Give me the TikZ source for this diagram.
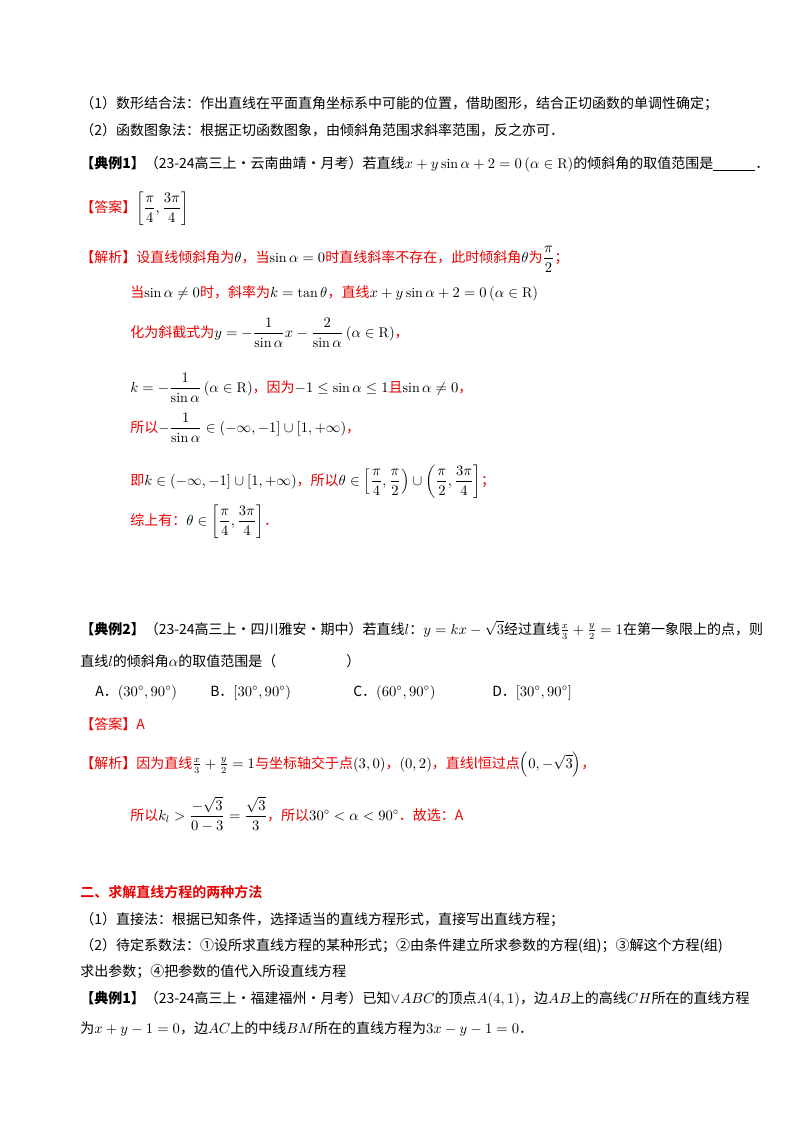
\documentclass[tikz,border=0pt]{standalone}
\usepackage{amsmath,amssymb}
\usepackage{fontspec}
\newfontfamily\cjk{Noto Sans CJK SC}
\newfontfamily\cjkb{Noto Sans CJK SC Bold}
\definecolor{rd}{RGB}{230,0,0}
\begin{document}
\begin{tikzpicture}[x=0.75pt,y=-0.75pt,
  ln/.style={anchor=base west,inner sep=0pt,font=\fontsize{10.5}{12}\selectfont\cjk},
  rl/.style={ln,text=rd}]
\useasboundingbox (0,0) rectangle (800,1132);
\node[ln] (l1) at (80,108) {（1）数形结合法：作出直线在平面直角坐标系中可能的位置，借助图形，结合正切函数的单调性确定；};
\node[ln] (l2) at (80,135) {（2）函数图象法：根据正切函数图象，由倾斜角范围求斜率范围，反之亦可．};
\node[ln] (l3) at (80,168) {{\bfseries【典例1】}（23-24高三上·云南曲靖·月考）若直线$x+y\sin\alpha+2=0\left(\alpha\in\mathrm{R}\right)$的倾斜角的取值范围是\underline{\hspace{3em}}．};
\node[ln] (l4) at (80,212) {\textcolor{rd}{【答案】}$\left[\dfrac{\pi}{4},\dfrac{3\pi}{4}\right]$};
\node[rl] (l5) at (80,262) {【解析】设直线倾斜角为\textcolor{black}{$\theta$}，当\textcolor{black}{$\sin\alpha=0$}时直线斜率不存在，此时倾斜角\textcolor{black}{$\theta$}为\textcolor{black}{$\dfrac{\pi}{2}$}；};
\node[rl] (l6) at (130,297) {当\textcolor{black}{$\sin\alpha\neq0$}时，斜率为\textcolor{black}{$k=\tan\theta$}，直线\textcolor{black}{$x+y\sin\alpha+2=0\left(\alpha\in\mathrm{R}\right)$}};
\node[rl] (l7) at (130,337) {化为斜截式为\textcolor{black}{$y=-\dfrac{1}{\sin\alpha}x-\dfrac{2}{\sin\alpha}\left(\alpha\in\mathrm{R}\right)$}，};
\node[rl] (l8) at (130,392) {\textcolor{black}{$k=-\dfrac{1}{\sin\alpha}\left(\alpha\in\mathrm{R}\right)$}，因为\textcolor{black}{$-1\le\sin\alpha\le1$}且\textcolor{black}{$\sin\alpha\neq0$}，};
\node[rl] (l9) at (130,432) {所以\textcolor{black}{$-\dfrac{1}{\sin\alpha}\in\left(-\infty,-1\right]\cup\left[1,+\infty\right)$}，};
\node[rl] (l10) at (130,485) {即\textcolor{black}{$k\in\left(-\infty,-1\right]\cup\left[1,+\infty\right)$}，所以\textcolor{black}{$\theta\in\left[\dfrac{\pi}{4},\dfrac{\pi}{2}\right)\cup\left(\dfrac{\pi}{2},\dfrac{3\pi}{4}\right]$}；};
\node[rl] (l11) at (130,525) {综上有：\textcolor{black}{$\theta\in\left[\dfrac{\pi}{4},\dfrac{3\pi}{4}\right]$}．};
\node[ln] (l12) at (80,634) {{\bfseries【典例2】}（23-24高三上·四川雅安·期中）若直线$l$：$y=kx-\sqrt3$经过直线$\tfrac{x}{3}+\tfrac{y}{2}=1$在第一象限上的点，则};
\node[ln] (l13) at (80,666) {直线$l$的倾斜角$\alpha$的取值范围是（\hspace{5em}）};
\node[ln] (a) at (95,696) {A．$\left(30^\circ,90^\circ\right)$};
\node[ln] (b) at (210,696) {B．$\left[30^\circ,90^\circ\right)$};
\node[ln] (c) at (353,696) {C．$\left(60^\circ,90^\circ\right)$};
\node[ln] (d) at (492,696) {D．$\left[30^\circ,90^\circ\right]$};
\node[rl] (l14) at (80,729) {【答案】A};
\node[rl] (l15) at (80,768) {【解析】因为直线\textcolor{black}{$\tfrac{x}{3}+\tfrac{y}{2}=1$}与坐标轴交于点\textcolor{black}{$\left(3,0\right)$}，\textcolor{black}{$\left(0,2\right)$}，直线l恒过点\textcolor{black}{$\left(0,-\sqrt3\right)$}，};
\node[rl] (l16) at (130,820) {所以\textcolor{black}{$k_l>\dfrac{-\sqrt3}{0-3}=\dfrac{\sqrt3}{3}$}，所以\textcolor{black}{$30^\circ<\alpha<90^\circ$}．故选：A};
\node[rl,font=\fontsize{10.5}{12}\selectfont\cjkb] (h2) at (80,897) {二、求解直线方程的两种方法};
\node[ln] (l17) at (80,924) {（1）直接法：根据已知条件，选择适当的直线方程形式，直接写出直线方程；};
\node[ln] (l18) at (80,950) {（2）待定系数法：①设所求直线方程的某种形式；②由条件建立所求参数的方程(组)；③解这个方程(组)};
\node[ln] (l19) at (80,976) {求出参数；④把参数的值代入所设直线方程};
\node[ln] (l20) at (80,1003) {{\bfseries【典例1】}（23-24高三上·福建福州·月考）已知$\vee ABC$的顶点$A(4,1)$，边$AB$上的高线$CH$所在的直线方程};
\node[ln] (l21) at (80,1033) {为$x+y-1=0$，边$AC$上的中线$BM$所在的直线方程为$3x-y-1=0$．};
\end{tikzpicture}
\end{document}
